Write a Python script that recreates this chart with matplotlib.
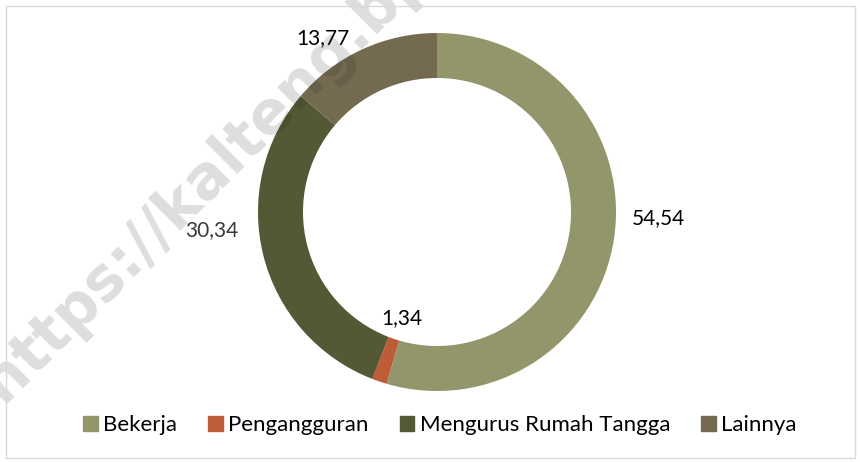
import numpy as np
import matplotlib
matplotlib.use("Agg")
import matplotlib.pyplot as plt
from matplotlib.patches import Rectangle

categories = ["Bekerja", "Pengangguran", "Mengurus Rumah Tangga", "Lainnya"]
values = [54.54, 1.34, 30.34, 13.77]
value_labels = ["54,54", "1,34", "30,34", "13,77"]
colors = ["#93956A", "#BE5C37", "#545834", "#736A50"]
label_colors = ["black", "black", "#3a3a3a", "black"]

W, H = 860, 462
fig = plt.figure(figsize=(W / 100, H / 100), dpi=100)
ax = fig.add_axes([0, 0, 1, 1])


def py(y):
    # convert pixel-from-top to data y
    return H - y


cx, cy = 437, 212
R = 179
ring = 45

wedges, _ = ax.pie(values, colors=colors, startangle=90, counterclock=False,
                   center=(cx, py(cy)), radius=R,
                   wedgeprops=dict(width=ring, edgecolor="none"))
ax.set_xlim(0, W)
ax.set_ylim(0, H)
ax.set_aspect("equal")
ax.axis("off")

font = "Lato"
fs = 15

# data label anchor positions (pixels from top-left), as Excel placed them
label_pos = [(658, 218), (402, 318), (212, 230), (323, 38)]
for lab, (x, y), col in zip(value_labels, label_pos, label_colors):
    ax.text(x, py(y), lab, ha="center", va="center", fontsize=fs, family=font, color=col)

# legend
handles = [Rectangle((0, 0), 1, 1, color=c) for c in colors]
fig.legend(handles, categories, loc="center", bbox_to_anchor=(440 / W, 1 - 425 / H),
           ncol=4, frameon=False, prop=dict(family=font, size=16),
           handlelength=0.65, handleheight=0.65, handletextpad=0.25, columnspacing=1.4)

# watermark
ax.text(3, py(404), "https://kalteng.bps.go.id", rotation=45, rotation_mode="anchor",
        fontsize=43, fontweight="bold", family="DejaVu Sans", color="#202020", alpha=0.15,
        ha="left", va="baseline", zorder=10, clip_on=True)

# border
fig.patches.append(Rectangle((6 / W, 4 / H), 849 / W, 452 / H, transform=fig.transFigure,
                             fill=False, edgecolor="#d9d9d9", linewidth=1))

fig.savefig("out.png", dpi=100)
